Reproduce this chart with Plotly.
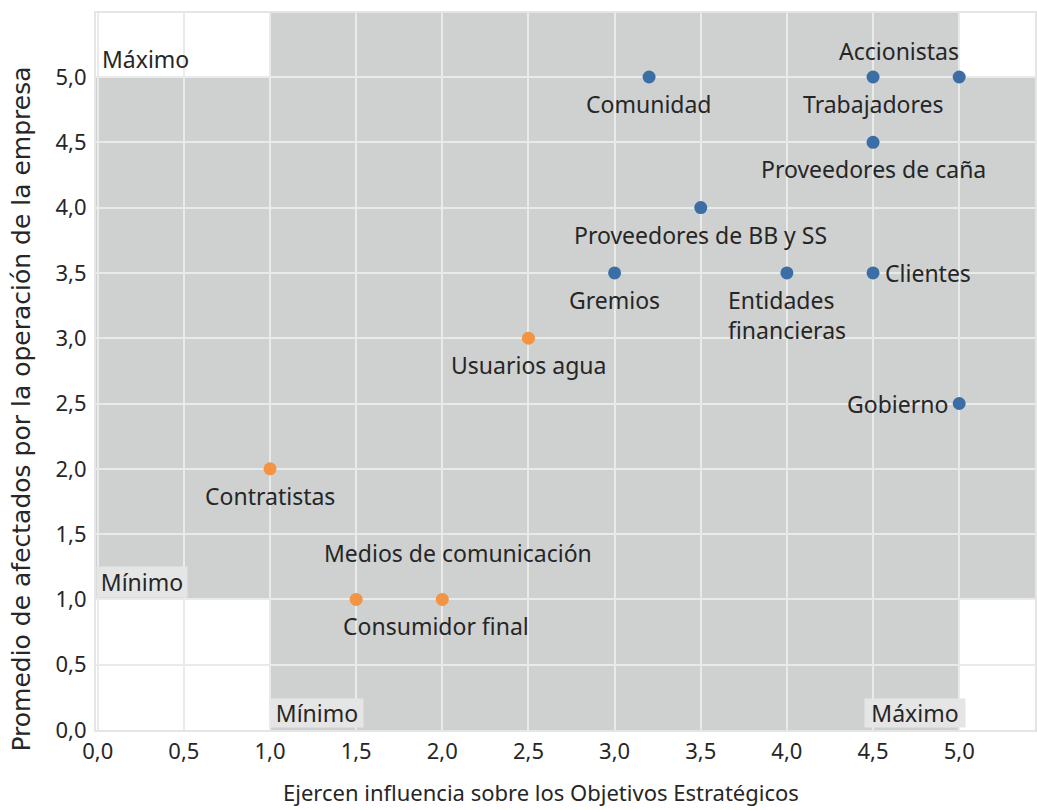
import plotly.graph_objects as go

# ---------------- data ----------------
names = ["Comunidad", "Trabajadores", "Accionistas", "Proveedores de caña",
         "Proveedores de BB y SS", "Gremios", "Entidades financieras", "Clientes",
         "Gobierno", "Usuarios agua", "Contratistas", "Medios de comunicación",
         "Consumidor final"]
influence = [3.2, 4.5, 5.0, 4.5, 3.5, 3.0, 4.0, 4.5, 5.0, 2.5, 1.0, 1.5, 2.0]
affected = [5.0, 5.0, 5.0, 4.5, 4.0, 3.5, 3.5, 3.5, 2.5, 3.0, 2.0, 1.0, 1.0]
group = ["alto"] * 9 + ["bajo"] * 4

tick_vals = [0.0, 0.5, 1.0, 1.5, 2.0, 2.5, 3.0, 3.5, 4.0, 4.5, 5.0]
tick_text = ["0,0", "0,5", "1,0", "1,5", "2,0", "2,5", "3,0", "3,5", "4,0", "4,5", "5,0"]

min_level = 1.0
max_level = 5.0
x_title = "Ejercen influencia sobre los Objetivos Estratégicos"
y_title = "Promedio de afectados por la operación de la empresa"

# ---------------- style ----------------
colors = {"alto": "#3a6ea5", "bajo": "#f39442"}
GRAY = "#cfd1d1"
GRID = "#e9eaea"
BOX = "#e5e5e5"
FONT = "Noto Sans"
TXT = "#262626"
LSIZE = 23

# label placement: xanchor, yanchor, xshift, yshift
place = {
    "Comunidad": ("center", "top", 0, -9),
    "Trabajadores": ("center", "top", 0, -9),
    "Accionistas": ("right", "bottom", 2, 8),
    "Proveedores de caña": ("center", "top", 0, -9),
    "Proveedores de BB y SS": ("center", "top", 0, -9),
    "Gremios": ("center", "top", 0, -9),
    "Entidades financieras": ("center", "top", 0, -9),
    "Clientes": ("left", "middle", 10, 0),
    "Gobierno": ("right", "middle", -9, 0),
    "Usuarios agua": ("center", "top", 0, -9),
    "Contratistas": ("center", "top", 0, -9),
    "Medios de comunicación": ("center", "bottom", 102, 28),
    "Consumidor final": ("center", "top", -6, -9),
}

fig = go.Figure()

for g in ["alto", "bajo"]:
    xs = [x for x, gg in zip(influence, group) if gg == g]
    ys = [y for y, gg in zip(affected, group) if gg == g]
    fig.add_trace(go.Scatter(x=xs, y=ys, mode="markers",
                             marker=dict(size=13, color=colors[g], line=dict(width=0)),
                             showlegend=False, hoverinfo="skip"))

annotations = []
for n, x, y in zip(names, influence, affected):
    xa, ya, xs, ys = place[n]
    annotations.append(dict(x=x, y=y, xref="x", yref="y", showarrow=False,
                            text=n.replace("Entidades ", "Entidades<br>"),
                            align="left", xanchor=xa, yanchor=ya,
                            xshift=xs, yshift=ys,
                            font=dict(family=FONT, size=LSIZE, color=TXT)))

box_font = dict(family=FONT, size=LSIZE, color=TXT)
annotations += [
    dict(x=0, y=max_level, xref="paper", yref="y", text="Máximo", showarrow=False,
         xanchor="left", yanchor="bottom", xshift=4, yshift=0, font=box_font),
    dict(x=0, y=min_level, xref="paper", yref="y", text="Mínimo", showarrow=False,
         xanchor="left", yanchor="bottom", bgcolor=BOX, borderpad=0,
         width=90, height=30, align="center", yshift=1, font=box_font),
    dict(x=min_level, y=0, xref="x", yref="paper", text="Mínimo", showarrow=False,
         xanchor="left", yanchor="bottom", bgcolor=BOX, borderpad=0,
         width=92, height=28, align="center", yshift=2, font=box_font),
    dict(x=max_level, y=0, xref="x", yref="paper", text="Máximo", showarrow=False,
         xanchor="right", yanchor="bottom", bgcolor=BOX, borderpad=0,
         width=100, height=28, align="center", xshift=7, yshift=2, font=box_font),
    dict(x=0.474, y=-0.086, xref="paper", yref="paper", text=x_title, showarrow=False,
         xanchor="center", yanchor="middle",
         font=dict(family=FONT, size=22, color=TXT)),
    dict(x=-0.079, y=0.448, xref="paper", yref="paper", text=y_title, showarrow=False,
         xanchor="center", yanchor="middle", textangle=-90,
         font=dict(family="DejaVu Sans", size=25, color=TXT)),
]

shapes = [
    dict(type="rect", xref="x", yref="paper", x0=min_level, x1=max_level, y0=0, y1=1,
         fillcolor=GRAY, line=dict(width=0), layer="below"),
    dict(type="rect", xref="paper", yref="y", x0=0, x1=1, y0=min_level, y1=max_level,
         fillcolor=GRAY, line=dict(width=0), layer="below"),
]

axis_common = dict(tickvals=tick_vals, ticktext=tick_text, showgrid=True,
                   gridcolor=GRID, gridwidth=2, zeroline=False, showline=True,
                   mirror=True, linecolor=BOX, linewidth=2,
                   ticks="outside", tickcolor="rgba(0,0,0,0)",
                   tickfont=dict(family=FONT, size=22, color=TXT))

fig.update_layout(
    width=1037, height=810,
    margin=dict(l=96, r=0, t=13, b=80),
    plot_bgcolor="white", paper_bgcolor="white",
    xaxis=dict(range=[-0.01, 5.44], ticklen=1, **axis_common),
    yaxis=dict(range=[0.0, 5.49], ticklen=3, **axis_common),
    shapes=shapes, annotations=annotations,
)

fig.write_html("out.html", config={"displayModeBar": False},
               post_script="document.body.style.margin='0';document.body.style.overflow='hidden';")
